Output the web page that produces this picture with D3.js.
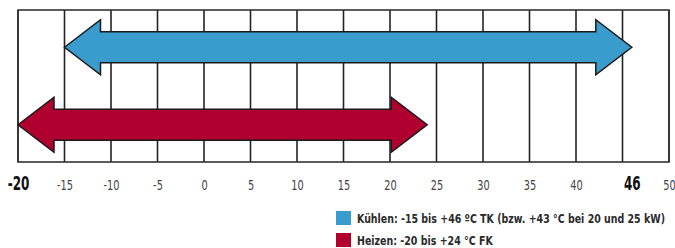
<!DOCTYPE html>
<html>
<head>
<meta charset="utf-8">
<script src="https://cdn.jsdelivr.net/npm/d3@7"></script>
<style>
    body { margin: 0; background: #fff; }
    text { font-family: "DejaVu Sans", sans-serif; }
</style>
</head>
<body>
<div id="chart"></div>
<script>
// temperature ranges (°C)
const modes = ["Kühlen", "Heizen"];
const rangeMin = [-15, -20];
const rangeMax = [46, 24];
const colors = ["#3a9bcd", "#b0002f"];
const legendLabels = [
    "Kühlen: -15 bis +46 ºC TK (bzw. +43 °C bei 20 und 25 kW)",
    "Heizen: -20 bis +24 °C FK"
];
const gridValues = d3.range(-20, 51, 5);
const tickLabels = [-20, -15, -10, -5, 0, 5, 10, 15, 20, 25, 30, 35, 40, 46, 50];
const boldTicks = [-20, 46];

let width = 675, height = 248;

let svg = d3.select("#chart").append("svg")
    .attr("width", width)
    .attr("height", height);

let x = d3.scaleLinear()
    .domain([-20, 50])
    .range([18, 669]);

let y = d3.scaleBand()
    .domain(modes)
    .range([10, 162])
    .paddingInner(0.14)
    .paddingOuter(0.05);

// grid
svg.append("g").selectAll("line")
    .data(gridValues)
    .enter().append("line")
    .attr("x1", d => x(d))
    .attr("x2", d => x(d))
    .attr("y1", 10)
    .attr("y2", 162)
    .attr("stroke", "#222")
    .attr("stroke-width", 1.6);

svg.append("rect")
    .attr("x", x(-20))
    .attr("y", 10)
    .attr("width", x(50) - x(-20))
    .attr("height", 152)
    .attr("fill", "none")
    .attr("stroke", "#333")
    .attr("stroke-width", 1.6);

// arrows
let headLen = 36;
function arrowPath(i) {
    let x0 = x(rangeMin[i]), x1 = x(rangeMax[i]);
    let cy = y(modes[i]) + y.bandwidth() / 2;
    let shaft = 15.5, head = 27.5;
    return [
        [x0, cy],
        [x0 + headLen, cy - head],
        [x0 + headLen, cy - shaft],
        [x1 - headLen, cy - shaft],
        [x1 - headLen, cy - head],
        [x1, cy],
        [x1 - headLen, cy + head],
        [x1 - headLen, cy + shaft],
        [x0 + headLen, cy + shaft],
        [x0 + headLen, cy + head]
    ];
}

svg.append("g").selectAll("path")
    .data(modes)
    .enter().append("path")
    .attr("d", (d, i) => d3.line()(arrowPath(i)) + "Z")
    .attr("fill", (d, i) => colors[i])
    .attr("stroke", "#1a1a1a")
    .attr("stroke-width", 1.5)
    .attr("stroke-linejoin", "miter");

// x axis labels (condensed look via horizontal squeeze)
let xAxis = d3.axisBottom(x)
    .tickValues(tickLabels)
    .tickSize(0)
    .tickPadding(0)
    .tickFormat(d => d);

let axisG = svg.append("g")
    .attr("transform", "translate(0,190)")
    .call(xAxis);
axisG.select(".domain").remove();
axisG.selectAll("text")
    .attr("y", 0)
    .attr("dy", 0)
    .attr("transform", d => boldTicks.includes(d) ? "scale(0.6,1)" : "scale(0.7,1)")
    .style("font-family", "'DejaVu Sans', sans-serif")
    .style("font-size", d => boldTicks.includes(d) ? "20px" : "14px")
    .style("font-weight", d => boldTicks.includes(d) ? "bold" : "normal")
    .attr("fill", d => boldTicks.includes(d) ? "#111" : "#444");

// legend
let legend = svg.append("g")
    .attr("transform", "translate(336,211)");

let rows = legend.selectAll("g")
    .data(legendLabels)
    .enter().append("g")
    .attr("transform", (d, i) => "translate(0," + (i * 22) + ")");

rows.append("rect")
    .attr("width", 15)
    .attr("height", 14)
    .attr("fill", (d, i) => colors[i]);

// squeeze legend text to the condensed width of the original
const legendWidths = [308, 136];
rows.append("text")
    .style("font-size", "13px")
    .style("font-weight", "bold")
    .attr("fill", "#2a2a2a")
    .text(d => d)
    .attr("transform", function (d, i) {
        let s = legendWidths[i] / this.getComputedTextLength();
        return "translate(21,12) scale(" + s + ",1)";
    });
</script>
</body>
</html>
